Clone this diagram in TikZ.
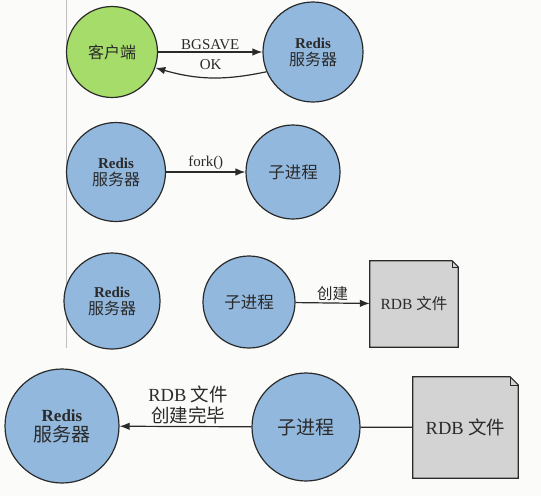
\documentclass[tikz,border=0pt]{standalone}
\usepackage{fontspec}
\setmainfont{Liberation Serif}
\newfontfamily\cjk{Noto Sans CJK SC}
\usetikzlibrary{arrows.meta}
\definecolor{gfill}{HTML}{A6DC6A}
\definecolor{bfill}{HTML}{92B8DE}
\definecolor{dfill}{HTML}{D3D3D3}
\definecolor{ink}{HTML}{2A2A2A}
\definecolor{bg}{HTML}{FBFBF9}
\tikzset{
  proc/.style={circle, draw=ink, line width=1.2pt, fill=bfill, inner sep=0pt, align=center, text=ink},
  cli/.style={proc, fill=gfill},
  conn/.style={draw=ink, line width=1.2pt},
  arr/.style={conn, -{Latex[length=10pt,width=7.5pt]}},
  lbl/.style={text=ink, inner sep=1pt},
  filebox/.style={draw=ink, line width=1.2pt, fill=dfill},
  srvsmall/.style={proc, font=\fontsize{16}{17}\selectfont},
  srvbig/.style={proc, font=\fontsize{19}{20}\selectfont},
}
\begin{document}
\begin{tikzpicture}[x=1pt,y=-1pt]
\fill[bg] (0,0) rectangle (541,496);
\useasboundingbox (0,0) rectangle (541,496);
\draw[gray!50, line width=0.8pt] (66,0) -- (66,348);

% panel 1
\node[cli, minimum size=91pt, font=\fontsize{16}{18}\selectfont\cjk] (c1) at (112,52) {客户端};
\node[srvsmall, minimum size=100pt] (s1) at (313,52) {{\fontsize{15}{15}\selectfont\bfseries Redis}\\{\cjk 服务器}};
\draw[arr] (c1) -- (s1) node[lbl, midway, above, font=\fontsize{15}{15}\selectfont, yshift=1pt] {BGSAVE};
\draw[arr] (s1.203) to[bend left=14] node[lbl, above, font=\fontsize{15}{15}\selectfont, yshift=6pt] {OK} (c1.-20);

% panel 2
\node[srvsmall, minimum size=99pt] (s2) at (116,172) {{\fontsize{15}{15}\selectfont\bfseries Redis}\\{\cjk 服务器}};
\node[proc, minimum size=94pt, font=\fontsize{16.5}{18}\selectfont\cjk] (k2) at (293,172) {子进程};
\draw[arr] (s2) -- (k2) node[lbl, midway, above, font=\fontsize{15}{15}\selectfont, yshift=1pt] {fork()};

% panel 3
\node[srvsmall, minimum size=96pt] (s3) at (112,301) {{\fontsize{15}{15}\selectfont\bfseries Redis}\\{\cjk 服务器}};
\node[proc, minimum size=92pt, font=\fontsize{16.5}{18}\selectfont\cjk] (k3) at (249,302) {子进程};
\node[minimum width=88pt, minimum height=86pt, inner sep=0pt] (f3) at (414,304) {};
\filldraw[filebox] (f3.north west) -- ([xshift=-6pt]f3.north east) -- ([yshift=-6pt]f3.north east) -- (f3.south east) -- (f3.south west) -- cycle;
\draw[ink, line width=0.6pt] ([xshift=-6pt]f3.north east) |- ([yshift=-6pt]f3.north east);
\node[lbl, font=\fontsize{15.5}{18}\selectfont] at (f3) {RDB {\cjk 文件}};
\draw[arr] (k3) -- (f3) node[lbl, midway, above, font=\fontsize{15.5}{18}\selectfont\cjk, yshift=1pt] {创建};

% panel 4
\node[srvbig, minimum size=114pt] (s4) at (62,426) {{\fontsize{17}{17}\selectfont\bfseries Redis}\\{\cjk 服务器}};
\node[proc, minimum size=108pt, font=\fontsize{19}{21}\selectfont\cjk] (k4) at (306,427) {子进程};
\node[minimum width=105pt, minimum height=101pt, inner sep=0pt] (f4) at (465.5,427.5) {};
\filldraw[filebox] (f4.north west) -- ([xshift=-8pt]f4.north east) -- ([yshift=-8pt]f4.north east) -- (f4.south east) -- (f4.south west) -- cycle;
\draw[ink, line width=0.6pt] ([xshift=-8pt]f4.north east) |- ([yshift=-8pt]f4.north east);
\node[lbl, font=\fontsize{18.5}{21}\selectfont] at (f4) {RDB {\cjk 文件}};
\draw[conn] (k4) -- (f4);
\draw[arr] (k4) -- (s4) node[lbl, pos=0.48, above, align=center, font=\fontsize{18.5}{21}\selectfont, yshift=1pt] {RDB {\cjk 文件}\\{\cjk 创建完毕}};
\end{tikzpicture}
\end{document}
